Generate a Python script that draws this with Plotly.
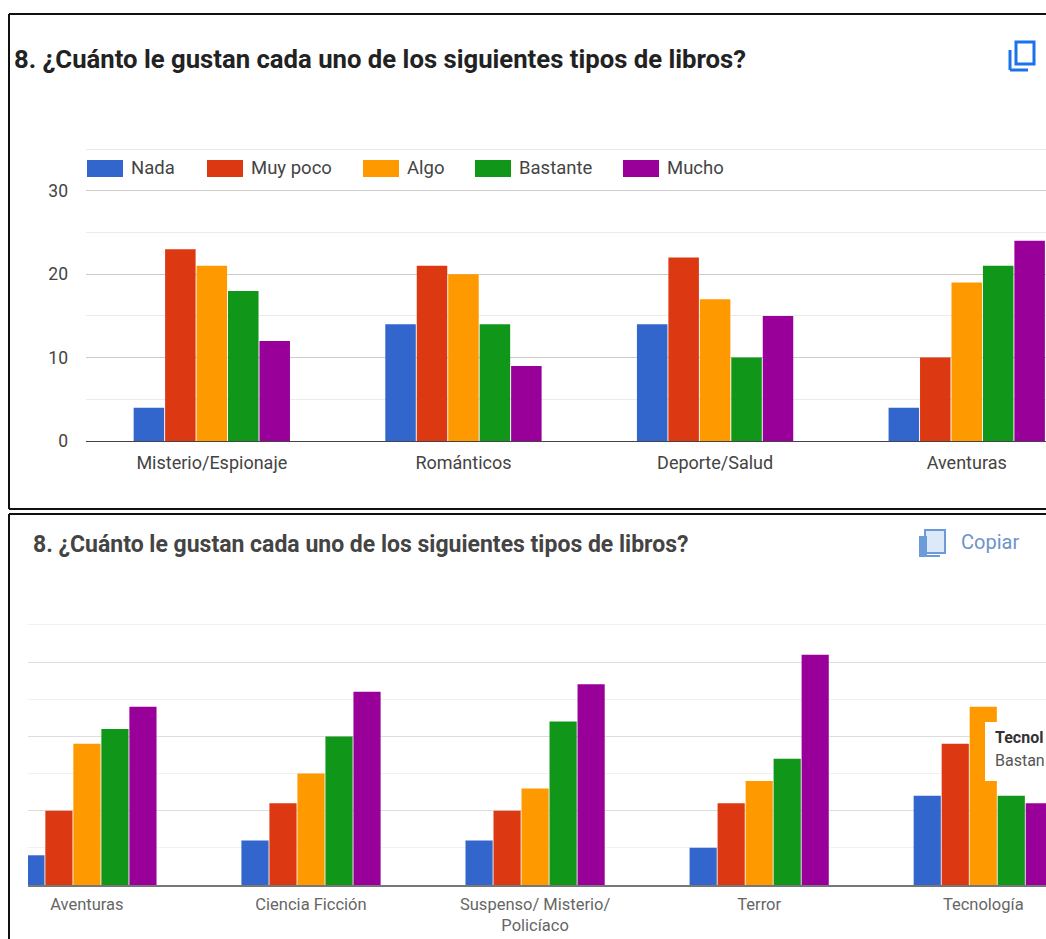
import plotly.graph_objects as go

series_names = ["Nada", "Muy poco", "Algo", "Bastante", "Mucho"]
series_colors = ["#3366cc", "#dc3912", "#ff9900", "#109618", "#990099"]

top_categories = ["Misterio/Espionaje", "Románticos", "Deporte/Salud", "Aventuras"]
top_nada = [4, 14, 14, 4]
top_muy_poco = [23, 21, 22, 10]
top_algo = [21, 20, 17, 19]
top_bastante = [18, 14, 10, 21]
top_mucho = [12, 9, 15, 24]

bottom_categories = ["Aventuras", "Ciencia Ficción", "Suspenso/ Misterio/<br>Policíaco", "Terror", "Tecnología"]
bottom_nada = [4, 6, 6, 5, 12]
bottom_muy_poco = [10, 11, 10, 11, 19]
bottom_algo = [19, 15, 13, 14, 24]
bottom_bastante = [21, 20, 22, 17, 12]
bottom_mucho = [24, 26, 27, 31, 11]

title_text = "8. ¿Cuánto le gustan cada uno de los siguientes tipos de libros?"
W, H = 1046, 939


def px(x):
    return x / W


def py(y):
    return 1 - y / H


fig = go.Figure()
top_values = [top_nada, top_muy_poco, top_algo, top_bastante, top_mucho]
bottom_values = [bottom_nada, bottom_muy_poco, bottom_algo, bottom_bastante, bottom_mucho]
for name, color, vals in zip(series_names, series_colors, top_values):
    fig.add_bar(x=top_categories, y=vals, name=name, marker=dict(color=color, line_width=0),
                xaxis="x", yaxis="y", showlegend=False, hoverinfo="skip")
for name, color, vals in zip(series_names, series_colors, bottom_values):
    fig.add_bar(x=bottom_categories, y=vals, name=name, marker=dict(color=color, line_width=0),
                xaxis="x2", yaxis="y2", showlegend=False, hoverinfo="skip")

shapes = []
annotations = []


def line(x0, y0, x1, y1, color="#111111", width=2):
    shapes.append(dict(type="line", xref="paper", yref="paper", x0=px(x0), y0=py(y0), x1=px(x1), y1=py(y1),
                       line=dict(color=color, width=width), layer="above"))


def rect(x0, y0, x1, y1, fill, outline=None, width=0):
    shapes.append(dict(type="rect", xref="paper", yref="paper", x0=px(x0), y0=py(y0), x1=px(x1), y1=py(y1),
                       fillcolor=fill, line=dict(color=outline or fill, width=width), layer="above"))


def text(x, y, s, size, color, family="Roboto", anchor="left"):
    annotations.append(dict(xref="paper", yref="paper", x=px(x), y=py(y), text=s, showarrow=False,
                            xanchor=anchor, yanchor="middle", borderpad=0, borderwidth=0,
                            font=dict(size=size, color=color, family=family)))


# frames
line(9, 14, W, 14)
line(9, 14, 9, 509)
line(9, 509, W, 509)
line(9, 514, W, 514)
line(9, 514, 9, H)

# titles
text(14, 59, "<b>" + title_text + "</b>", 25.7, "#222222")
text(33, 544, "<b>" + title_text + "</b>", 23, "#444444")

# legend of the top chart
legend_x = [87, 207, 363, 475, 623]
for lx, name, color in zip(legend_x, series_names, series_colors):
    rect(lx, 160, lx + 36, 177, color)
    text(lx + 44, 168, name, 18.5, "#444444")

# copy icons
rect(1016, 42, 1034, 64, "rgba(0,0,0,0)", "#1a73e8", 3)
line(1010, 50, 1010, 70, "#1a73e8", 3)
line(1010, 70, 1028, 70, "#1a73e8", 3)
rect(925, 530, 945, 553, "#dbe9f8", "#6b9bd8", 2)
rect(919, 536, 927, 557, "#6b9bd8")
line(919, 556, 940, 556, "#6b9bd8", 2)
text(961, 542, "Copiar", 20, "#6b94c9")

# tooltip, cut by the picture's right edge as in the reference
rect(985, 722, W + 4, 781, "#ffffff")
text(995, 737, "<b>Tecnol</b>", 16, "#333333")
text(995, 760, "Bastan", 16, "#555555")

fig.update_layout(
    width=W, height=H, autosize=False, margin=dict(l=0, r=0, t=0, b=0, pad=0, autoexpand=False),
    paper_bgcolor="#ffffff", plot_bgcolor="#ffffff",
    barmode="group", bargap=0.375, bargroupgap=0.03, hovermode=False,
    font=dict(family="Roboto", color="#444444"),
    shapes=shapes, annotations=annotations,
    xaxis=dict(domain=[px(86), 1], anchor="y", type="category", range=[-0.5, 3.315], showgrid=False,
               showline=True, linecolor="#444444", linewidth=1, ticks="", ticklabelstandoff=5,
               tickfont=dict(size=18, color="#444444", family="Roboto")),
    yaxis=dict(domain=[py(441), py(146.6)], anchor="x", range=[0, 35.3], tick0=0, dtick=10,
               gridcolor="#cccccc", gridwidth=1, zeroline=False, ticks="", ticklabelstandoff=17,
               tickfont=dict(size=17.5, color="#444444", family="Roboto"),
               minor=dict(dtick=5, tick0=0, showgrid=True, gridcolor="#ebebeb", gridwidth=1, ticks="")),
    xaxis2=dict(domain=[px(28), 1], anchor="y2", type="category", range=[-0.263, 4.28], showgrid=False,
                showline=True, linecolor="#777777", linewidth=2, ticks="", ticklabelstandoff=3,
                tickfont=dict(size=16.5, color="#666666", family="Roboto")),
    yaxis2=dict(domain=[py(885), py(622.7)], anchor="x2", range=[0, 35.3], tick0=0, dtick=10,
                showticklabels=False, gridcolor="#dddddd", gridwidth=1, zeroline=False, ticks="",
                minor=dict(dtick=5, tick0=0, showgrid=True, gridcolor="#f1f1f1", gridwidth=1, ticks="")),
)

fig.write_html("out.html", config=dict(displayModeBar=False),
               post_script="document.body.style.margin='0';document.body.style.overflow='hidden';")
